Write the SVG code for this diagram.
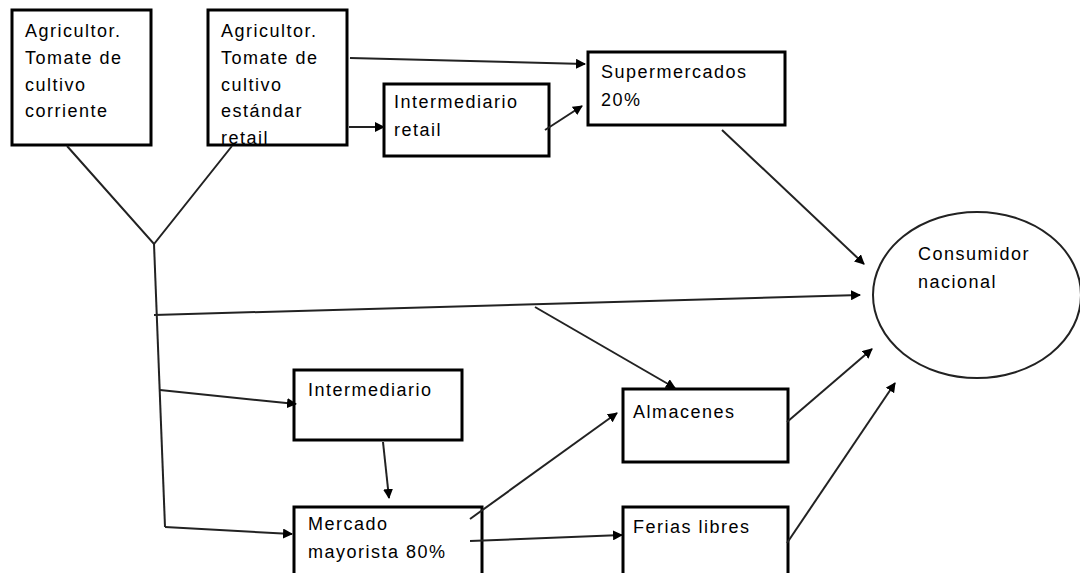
<svg xmlns="http://www.w3.org/2000/svg" width="1080" height="573" viewBox="0 0 1080 573">
<style>
.box{fill:#fff;stroke:#000;stroke-width:3}
.ell{fill:#fff;stroke:#222;stroke-width:2}
.t{font-family:"Liberation Sans",Arial,sans-serif;font-size:18px;letter-spacing:1.5px;fill:#000}
.c{fill:none;stroke:#222;stroke-width:2}
.a{fill:none;stroke:#222;stroke-width:2;marker-end:url(#ah)}
</style>
<defs>
<marker id="ah" viewBox="0 0 10 10" refX="9" refY="5" markerWidth="5" markerHeight="5" orient="auto" markerUnits="strokeWidth">
<path d="M0,0 L10,5 L0,10 Z" fill="#000"/>
</marker>
</defs>
<rect width="1080" height="573" fill="#fff"/>
<g id="agricultor1">
<rect class="box" x="12" y="10" width="139" height="135"/>
<text class="t" x="25" y="37">Agricultor.</text>
<text class="t" x="25" y="64">Tomate de</text>
<text class="t" x="25" y="91">cultivo</text>
<text class="t" x="25" y="117">corriente</text>
</g>
<g id="agricultor2">
<rect class="box" x="208" y="10" width="139" height="135"/>
<text class="t" x="221" y="37">Agricultor.</text>
<text class="t" x="221" y="64">Tomate de</text>
<text class="t" x="221" y="91">cultivo</text>
<text class="t" x="221" y="117">estándar</text>
<text class="t" x="221" y="144">retail</text>
</g>
<g id="intermediario-retail">
<rect class="box" x="384" y="84" width="165" height="72"/>
<text class="t" x="394" y="108">Intermediario</text>
<text class="t" x="394" y="136">retail</text>
</g>
<g id="supermercados">
<rect class="box" x="588" y="52" width="197" height="73"/>
<text class="t" x="601" y="78">Supermercados</text>
<text class="t" x="601" y="106">20%</text>
</g>
<g id="consumidor">
<ellipse class="ell" cx="977" cy="295" rx="104" ry="83"/>
<text class="t" x="918" y="260">Consumidor</text>
<text class="t" x="918" y="288">nacional</text>
</g>
<g id="intermediario">
<rect class="box" x="294" y="370" width="168" height="70"/>
<text class="t" x="308" y="396">Intermediario</text>
</g>
<g id="almacenes">
<rect class="box" x="623" y="389" width="165" height="73"/>
<text class="t" x="633" y="418">Almacenes</text>
</g>
<g id="mercado">
<rect class="box" x="294" y="507" width="188" height="80"/>
<text class="t" x="308" y="530">Mercado</text>
<text class="t" x="308" y="558">mayorista 80%</text>
</g>
<g id="ferias">
<rect class="box" x="623" y="507" width="165" height="80"/>
<text class="t" x="633" y="533">Ferias libres</text>
</g>
<g id="connectors">
<polyline class="c" points="67,146 154,244 232,146"/>
<line class="c" x1="154" y1="244" x2="165" y2="527"/>
<line class="a" x1="350" y1="58" x2="585" y2="64"/>
<line class="a" x1="349" y1="127" x2="384" y2="127"/>
<line class="a" x1="545" y1="130" x2="582" y2="106"/>
<line class="a" x1="722" y1="130" x2="864" y2="264"/>
<line class="a" x1="154" y1="315" x2="860" y2="295"/>
<line class="a" x1="535" y1="307" x2="675" y2="388"/>
<line class="a" x1="160" y1="390" x2="296" y2="404"/>
<line class="a" x1="165" y1="527" x2="292" y2="534"/>
<line class="a" x1="383" y1="442" x2="389" y2="498"/>
<line class="a" x1="470" y1="519" x2="617" y2="413"/>
<line class="a" x1="470" y1="541" x2="622" y2="535"/>
<line class="a" x1="787" y1="422" x2="872" y2="349"/>
<line class="a" x1="787" y1="543" x2="895" y2="383"/>
</g>
</svg>
